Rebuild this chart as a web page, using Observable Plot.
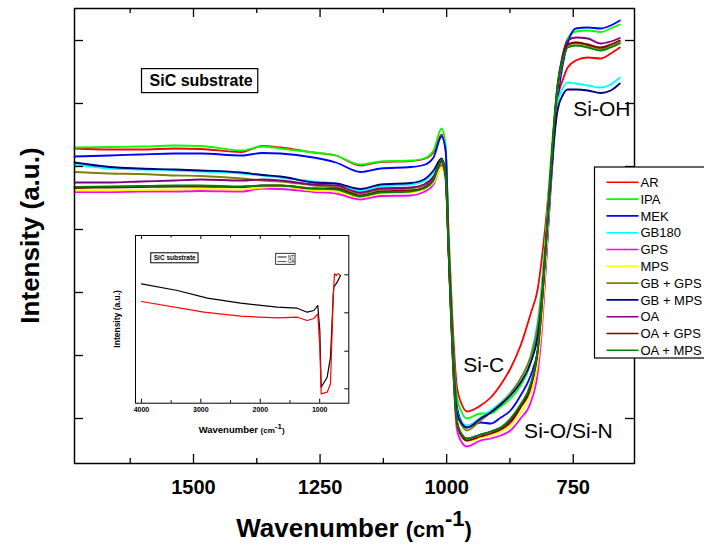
<!DOCTYPE html>
<html><head><meta charset="utf-8">
<script src="https://cdn.jsdelivr.net/npm/d3@7"></script>
<script src="https://cdn.jsdelivr.net/npm/@observablehq/plot@0.6"></script>
<style>
body{margin:0;background:#fff;}
#wrap{position:relative;width:704px;height:545px;overflow:hidden;}
#inset{position:absolute;left:105px;top:228px;}
</style></head><body><div id="wrap"></div>
<script>
// ---------- main chart data ----------
const wavenumbers = [1735,1665,1605,1537,1486,1405,1364,1328,1263,1219,1170,1130,1071,1045,1026,1010,1002,996,988,980,970,960,933,913,893,874,854,834,820,812,804,796,788,781,771,761,745,721,696,676,658];
const AR     = [3.52,3.51,3.51,3.52,3.515,3.485,3.545,3.53,3.48,3.45,3.35,3.385,3.395,3.415,3.48,3.66,3.50,2.65,1.75,1.15,0.96,0.89,0.95,1.03,1.16,1.32,1.55,1.87,2.12,2.42,2.80,3.23,3.70,4.02,4.20,4.33,4.40,4.43,4.42,4.47,4.53];
const IPA    = [3.53,3.535,3.54,3.55,3.545,3.50,3.54,3.52,3.48,3.45,3.36,3.39,3.40,3.42,3.50,3.72,3.55,2.60,1.60,1.05,0.88,0.82,0.87,0.87,0.94,1.02,1.15,1.38,1.75,2.15,2.68,3.28,3.80,4.15,4.45,4.62,4.69,4.70,4.685,4.72,4.76];
const MEK    = [3.44,3.45,3.46,3.47,3.47,3.45,3.475,3.47,3.43,3.38,3.285,3.32,3.335,3.355,3.43,3.64,3.50,2.55,1.55,0.95,0.78,0.73,0.78,0.77,0.83,0.90,1.05,1.25,1.50,1.80,2.35,3.00,3.60,4.00,4.35,4.57,4.72,4.73,4.72,4.75,4.80];
const GB180  = [3.36,3.32,3.31,3.30,3.29,3.27,3.25,3.23,3.19,3.17,3.10,3.14,3.16,3.19,3.28,3.40,3.25,2.50,1.50,0.90,0.78,0.75,0.83,0.90,0.98,1.08,1.22,1.45,1.80,2.15,2.65,3.20,3.70,3.97,4.12,4.18,4.17,4.15,4.13,4.16,4.23];
const GPS    = [3.085,3.085,3.09,3.09,3.095,3.09,3.12,3.115,3.085,3.07,3.01,3.045,3.05,3.085,3.16,3.34,3.20,2.44,1.40,0.72,0.58,0.54,0.60,0.62,0.65,0.70,0.82,0.98,1.28,1.70,2.35,3.05,3.68,4.10,4.42,4.55,4.57,4.55,4.52,4.55,4.59];
const MPS    = [3.10,3.10,3.105,3.11,3.115,3.11,3.13,3.14,3.10,3.09,3.03,3.07,3.08,3.11,3.18,3.33,3.20,2.45,1.42,0.78,0.64,0.59,0.63,0.65,0.69,0.75,0.88,1.07,1.38,1.80,2.42,3.10,3.70,4.12,4.42,4.55,4.57,4.55,4.52,4.55,4.59];
const GB_GPS = [3.285,3.27,3.265,3.25,3.245,3.22,3.20,3.19,3.15,3.13,3.07,3.11,3.12,3.15,3.23,3.36,3.24,2.48,1.48,0.88,0.75,0.70,0.80,0.88,0.97,1.07,1.22,1.44,1.75,2.10,2.60,3.18,3.72,4.10,4.40,4.55,4.58,4.55,4.52,4.54,4.58];
const GB_MPS = [3.38,3.335,3.32,3.31,3.30,3.28,3.255,3.24,3.18,3.17,3.115,3.16,3.175,3.21,3.30,3.42,3.28,2.50,1.50,0.88,0.77,0.73,0.82,0.88,0.96,1.05,1.18,1.38,1.65,2.00,2.55,3.10,3.60,3.90,4.05,4.11,4.11,4.10,4.075,4.10,4.17];
const OA     = [3.18,3.18,3.19,3.20,3.21,3.20,3.21,3.20,3.16,3.15,3.08,3.12,3.13,3.16,3.24,3.40,3.25,2.48,1.45,0.80,0.66,0.62,0.66,0.69,0.73,0.80,0.95,1.15,1.50,1.95,2.55,3.18,3.75,4.15,4.45,4.60,4.63,4.62,4.57,4.59,4.625];
const OA_GPS = [3.125,3.13,3.135,3.14,3.14,3.135,3.15,3.15,3.12,3.12,3.05,3.09,3.10,3.13,3.21,3.39,3.23,2.47,1.43,0.78,0.64,0.60,0.64,0.67,0.71,0.78,0.93,1.13,1.50,1.95,2.55,3.18,3.75,4.15,4.42,4.56,4.58,4.56,4.53,4.56,4.60];
const OA_MPS = [3.135,3.14,3.145,3.15,3.15,3.14,3.15,3.15,3.12,3.11,3.04,3.08,3.09,3.12,3.20,3.41,3.25,2.48,1.45,0.80,0.66,0.62,0.66,0.69,0.73,0.82,0.96,1.17,1.52,1.97,2.55,3.18,3.75,4.14,4.40,4.53,4.55,4.53,4.50,4.53,4.57];

const seriesNames  = ["AR","IPA","MEK","GB180","GPS","MPS","GB + GPS","GB + MPS","OA","OA + GPS","OA + MPS"];
const seriesColors = ["#ff0000","#00ff00","#0000ff","#00ffff","#ff00ff","#ffff00","#808000","#000080","#800080","#800000","#008000"];
const seriesValues = [AR,IPA,MEK,GB180,GPS,MPS,GB_GPS,GB_MPS,OA,OA_GPS,OA_MPS];

const xMajorTicks = [1500,1250,1000,750];
const xMinorTicks = [1625,1375,1125,875];
const yTicks = [0.82,1.45,2.08,2.71,3.34,3.97,4.60];
const xDomain = [1735,629];
const yDomain = [0.37,4.92];

const annotations = [
  {label:"Si-OH", w:750, v:3.915},
  {label:"Si-C", w:967, v:1.35},
  {label:"Si-O/Si-N", w:847, v:0.69}
];
const boxLabel = [{label:"SiC substrate", w:1485, v:4.2}];

// ---------- inset data ----------
const insetWnNT = [4000,3395,2891,2331,1714,1378,1210,1099,1032,998,975,874,818,773,763,706,650];
const insetNT   = [11.67,11.0,10.23,9.73,9.33,9.23,8.83,9.0,9.5,7.0,1.33,2.33,4.33,10.33,11.33,11.83,12.5];
const insetWnOA = [4000,2948,2331,1714,1378,1210,1099,1032,998,975,874,818,773,751,718,696,662];
const insetOA   = [9.9,8.83,8.43,8.27,8.33,8.0,8.2,8.67,5.33,0.67,0.83,1.67,10.33,12.67,12.5,12.67,12.57];
const insetNames = ["NT","OA"];
const insetColors = ["#000000","#ff0000"];
const insetXMajor = [4000,3000,2000,1000];
const insetXMinor = [3500,2500,1500];
const insetYTicks = [12.57,8.77,4.93,1.17];
const insetXDomain = [4100,510];
const insetYDomain = [-0.27,16.5];

const FONT = "Arial, 'Liberation Sans', sans-serif";

function boxAround(svgSel, label, padL, padR, padT, padB, sw){
  svgSel.selectAll("text").filter(function(){return this.textContent===label;}).each(function(){
    const b = this.getBBox();
    const tr = this.getAttribute("transform");
    const r = d3.select(this.parentNode).insert("rect",":first-child")
      .attr("x",b.x-padL).attr("y",b.y-padT).attr("width",b.width+padL+padR).attr("height",b.height+padT+padB)
      .attr("fill","white").attr("stroke","black").attr("stroke-width",sw);
    if (tr) r.attr("transform",tr);
  });
}

// ---------- main plot ----------
const W = 704, H = 545, mL = 74, mR = 70, mT = 8, mB = 82;
const yPerPx = (yDomain[1]-yDomain[0])/(H-mT-mB);
const xPerPx = (xDomain[0]-xDomain[1])/(W-mL-mR);
const majLen = 9*yPerPx, minLen = 5*yPerPx, yLen = 9*xPerPx;

const lineMarks = seriesNames.map((name,i) =>
  Plot.line(wavenumbers.map((w,j)=>({w, v: seriesValues[i][j]})),
    {x:"w", y:"v", stroke: seriesColors[i], strokeWidth:1.8, curve:"monotone-x"}));

const main = Plot.plot({
  width:W, height:H, marginLeft:mL, marginRight:mR, marginTop:mT, marginBottom:mB,
  style:{fontFamily:FONT, background:"white", color:"black"},
  x:{domain:xDomain, axis:null},
  y:{domain:yDomain, axis:null},
  marks:[
    ...lineMarks,
    Plot.ruleX(xMajorTicks,{x:d=>d, y1:yDomain[0], y2:yDomain[0]+majLen, stroke:"black", strokeWidth:1.3}),
    Plot.ruleX(xMinorTicks,{x:d=>d, y1:yDomain[0], y2:yDomain[0]+minLen, stroke:"black", strokeWidth:1.3}),
    Plot.ruleX(xMajorTicks,{x:d=>d, y1:yDomain[1]-majLen, y2:yDomain[1], stroke:"black", strokeWidth:1.3}),
    Plot.ruleX(xMinorTicks,{x:d=>d, y1:yDomain[1]-minLen, y2:yDomain[1], stroke:"black", strokeWidth:1.3}),
    Plot.ruleY(yTicks,{y:d=>d, x1:xDomain[0], x2:xDomain[0]-yLen, stroke:"black", strokeWidth:1.3}),
    Plot.ruleY(yTicks,{y:d=>d, x1:xDomain[1], x2:xDomain[1]+yLen, stroke:"black", strokeWidth:1.3}),
    Plot.axisX({ticks:xMajorTicks, tickSize:0, tickPadding:16, fontSize:20, fontWeight:"bold", label:null, tickFormat:d=>String(d)}),
    Plot.frame({stroke:"black", strokeWidth:1.5}),
    Plot.text(annotations,{x:"w", y:"v", text:"label", textAnchor:"start", fontSize:21, fill:"black"}),
    Plot.text(boxLabel,{x:"w", y:"v", text:"label", textAnchor:"middle", fontSize:16, fontWeight:"bold", fill:"black"})
  ]
});
const wrap = document.getElementById("wrap");
wrap.appendChild(main);
const svg = d3.select(main);

boxAround(svg, "SiC substrate", 8, 5, 3, 4, 1.2);

// axis titles
const xt = svg.append("text").attr("x",mL+(W-mL-mR)/2).attr("y",537).attr("text-anchor","middle")
  .attr("font-family",FONT).attr("font-weight","bold").attr("fill","black");
xt.append("tspan").attr("font-size",26).text("Wavenumber ");
xt.append("tspan").attr("font-size",22).text("(cm");
xt.append("tspan").attr("font-size",22).attr("dy",-11).text("-1");
xt.append("tspan").attr("font-size",22).attr("dy",11).text(")");

svg.append("text").attr("transform",`translate(39,${mT+(H-mT-mB)/2}) rotate(-90)`)
  .attr("text-anchor","middle").attr("font-family",FONT).attr("font-weight","bold")
  .attr("font-size",26).attr("fill","black").text("Intensity (a.u.)");

// legend
const lg = svg.append("g").attr("font-family",FONT).attr("text-anchor","start");
lg.append("rect").attr("x",594.5).attr("y",167).attr("width",130).attr("height",191)
  .attr("fill","white").attr("stroke","black").attr("stroke-width",1.2);
seriesNames.forEach((n,i)=>{
  const y = 182.3 + i*16.8;
  lg.append("line").attr("x1",606.5).attr("x2",638.5).attr("y1",y).attr("y2",y)
    .attr("stroke",seriesColors[i]).attr("stroke-width",1.6);
  lg.append("text").attr("x",640.5).attr("y",y).attr("dy","0.36em").attr("font-size",13)
    .attr("text-anchor","start").attr("fill","black").text(n);
});

// ---------- inset ----------
const iW = 250, iH = 212, imL = 30, imR = 6.7, imT = 7, imB = 37.3;
const iyPerPx = (insetYDomain[1]-insetYDomain[0])/(iH-imT-imB);
const ixPerPx = (insetXDomain[0]-insetXDomain[1])/(iW-imL-imR);
const inset = Plot.plot({
  width:iW, height:iH, marginLeft:imL, marginRight:imR, marginTop:imT, marginBottom:imB,
  style:{fontFamily:FONT, background:"transparent", color:"black"},
  x:{domain:insetXDomain, axis:null},
  y:{domain:insetYDomain, axis:null},
  marks:[
    Plot.line(insetWnNT.map((w,j)=>({w, v:insetNT[j]})),{x:"w", y:"v", stroke:insetColors[0], strokeWidth:1.2}),
    Plot.line(insetWnOA.map((w,j)=>({w, v:insetOA[j]})),{x:"w", y:"v", stroke:insetColors[1], strokeWidth:1.2}),
    Plot.ruleX(insetXMajor,{x:d=>d, y1:insetYDomain[0], y2:insetYDomain[0]+4*iyPerPx, stroke:"black", strokeWidth:1}),
    Plot.ruleX(insetXMinor,{x:d=>d, y1:insetYDomain[0], y2:insetYDomain[0]+2.5*iyPerPx, stroke:"black", strokeWidth:1}),
    Plot.ruleX(insetXMajor,{x:d=>d, y1:insetYDomain[1]-4*iyPerPx, y2:insetYDomain[1], stroke:"black", strokeWidth:1}),
    Plot.ruleX(insetXMinor,{x:d=>d, y1:insetYDomain[1]-2.5*iyPerPx, y2:insetYDomain[1], stroke:"black", strokeWidth:1}),
    Plot.ruleY(insetYTicks,{y:d=>d, x1:insetXDomain[1], x2:insetXDomain[1]+4*ixPerPx, stroke:"black", strokeWidth:1}),
    Plot.axisX({ticks:insetXMajor, tickSize:0, tickPadding:4, fontSize:7, fontWeight:"bold", label:null, tickFormat:d=>String(d)}),
    Plot.frame({stroke:"black", strokeWidth:1}),
    Plot.text([{label:"SiC substrate", w:3440, v:14.23}],{x:"w", y:"v", text:"label", fontSize:6.5, fontWeight:"bold", fill:"black"})
  ]
});
inset.id = "inset";
wrap.appendChild(inset);
const isvg = d3.select(inset);
boxAround(isvg, "SiC substrate", 3, 2, 1.5, 1.5, 1);

const ixt = isvg.append("text").attr("x",imL+(iW-imL-imR)/2).attr("y",205).attr("text-anchor","middle")
  .attr("font-family",FONT).attr("font-weight","bold").attr("fill","black");
ixt.append("tspan").attr("font-size",9.5).text("Wavenumber ");
ixt.append("tspan").attr("font-size",8).text("(cm");
ixt.append("tspan").attr("font-size",8).attr("dy",-4).text("-1");
ixt.append("tspan").attr("font-size",8).attr("dy",4).text(")");
isvg.append("text").attr("transform",`translate(15,${imT+(iH-imT-imB)/2}) rotate(-90)`)
  .attr("text-anchor","middle").attr("font-family",FONT).attr("font-weight","bold")
  .attr("font-size",8.5).attr("fill","black").text("Intensity (a.u.)");
const ilg = isvg.append("g").attr("font-family",FONT).attr("text-anchor","start");
ilg.append("rect").attr("x",170.7).attr("y",25.3).attr("width",19.3).attr("height",11)
  .attr("fill","white").attr("stroke","black").attr("stroke-width",0.8);
insetNames.forEach((n,i)=>{
  const y = 29 + i*4.5;
  ilg.append("line").attr("x1",172.5).attr("x2",181.5).attr("y1",y).attr("y2",y)
    .attr("stroke",insetColors[i]).attr("stroke-width",0.9);
  ilg.append("text").attr("x",183).attr("y",y).attr("dy","0.36em").attr("font-size",4.5)
    .attr("text-anchor","start").attr("fill","black").text(n);
});
</script></body></html>
